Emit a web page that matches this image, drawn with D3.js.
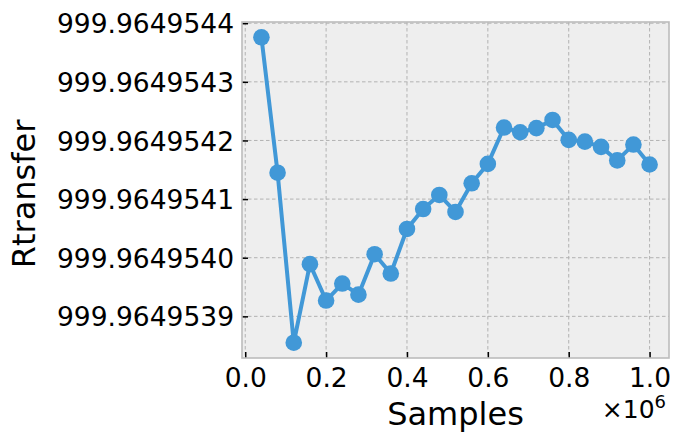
<!DOCTYPE html>
<html>
<head>
<meta charset="utf-8">
<script src="https://cdn.jsdelivr.net/npm/d3@7"></script>
<style>
  html, body { margin: 0; padding: 0; background: #ffffff; }
  svg { display: block; font-family: "DejaVu Sans", sans-serif; }
</style>
</head>
<body>
<svg id="chart" width="673" height="439"></svg>
<script>
// Sample counts (x) and transfer ratio estimates (y)
const samples = [
  40000, 80000, 120000, 160000, 200000, 240000, 280000, 320000, 360000, 400000,
  440000, 480000, 520000, 560000, 600000, 640000, 680000, 720000, 760000, 800000,
  840000, 880000, 920000, 960000, 1000000
];
const rtransfer = [
  999.964954376, 999.964954145, 999.964953855, 999.964953989, 999.964953927,
  999.964953956, 999.964953937, 999.964954006, 999.964953973, 999.964954049,
  999.964954083, 999.964954107, 999.964954078, 999.964954127, 999.964954160,
  999.964954222, 999.964954214, 999.964954221, 999.964954235, 999.964954201,
  999.964954198, 999.964954189, 999.964954166, 999.964954193, 999.964954159
];
const xTicks = [0, 200000, 400000, 600000, 800000, 1000000];
const xTickLabels = ["0.0", "0.2", "0.4", "0.6", "0.8", "1.0"];
const yTickLabels = ["999.9649539", "999.9649540", "999.9649541", "999.9649542", "999.9649543", "999.9649544"];
const yTicks = yTickLabels.map(Number);

const svg = d3.select("#chart");
const plot = { left: 242, right: 669, top: 22, bottom: 358 };

// 5% padding around the data on both axes
function padded(values) {
  const [lo, hi] = d3.extent(values);
  const m = (hi - lo) * 0.05;
  return [lo - m, hi + m];
}
const x = d3.scaleLinear().domain(padded(samples)).range([plot.left, plot.right]);
const y = d3.scaleLinear().domain(padded(rtransfer)).range([plot.bottom, plot.top]);

const color = "#4198d7";

// Axes background
svg.append("rect")
  .attr("x", plot.left).attr("y", plot.top)
  .attr("width", plot.right - plot.left).attr("height", plot.bottom - plot.top)
  .attr("fill", "#eeeeee");

// Grid lines
const grid = svg.append("g")
  .attr("stroke", "#b2b2b2").attr("stroke-width", 1).attr("stroke-dasharray", "3.5,2.5");
grid.selectAll("line.gx").data(xTicks).join("line")
  .attr("x1", d => x(d)).attr("x2", d => x(d))
  .attr("y1", plot.top).attr("y2", plot.bottom);
grid.selectAll("line.gy").data(yTicks).join("line")
  .attr("y1", d => y(d)).attr("y2", d => y(d))
  .attr("x1", plot.left).attr("x2", plot.right);

// Bottom axis: inward ticks
const xAxis = d3.axisBottom(x).tickValues(xTicks).tickSizeInner(-6).tickSizeOuter(0)
  .tickFormat((d, i) => xTickLabels[i]);
const gx = svg.append("g").attr("transform", `translate(0,${plot.bottom})`).call(xAxis);
gx.select(".domain").remove();
gx.selectAll(".tick line").attr("stroke", "#000").attr("stroke-width", 1.5);
gx.selectAll(".tick text").attr("y", 29).attr("dy", null)
  .attr("font-size", 26.5).attr("fill", "#000").attr("font-family", "DejaVu Sans");

// Left axis: inward ticks
const yAxis = d3.axisLeft(y).tickValues(yTicks).tickSizeInner(-6).tickSizeOuter(0)
  .tickFormat((d, i) => yTickLabels[i]);
const gy = svg.append("g").attr("transform", `translate(${plot.left},0)`).call(yAxis);
gy.select(".domain").remove();
gy.selectAll(".tick line").attr("stroke", "#000").attr("stroke-width", 1.5);
gy.selectAll(".tick text").attr("x", -8).attr("dy", "0.36em")
  .attr("font-size", 26.5).attr("fill", "#000").attr("font-family", "DejaVu Sans");

// Axes frame
svg.append("rect")
  .attr("x", plot.left).attr("y", plot.top)
  .attr("width", plot.right - plot.left).attr("height", plot.bottom - plot.top)
  .attr("fill", "none").attr("stroke", "#bcbcbc").attr("stroke-width", 1.6);

// Series line and markers
const pts = samples.map((s, i) => [s, rtransfer[i]]);
svg.append("path")
  .datum(pts)
  .attr("fill", "none").attr("stroke", color).attr("stroke-width", 4)
  .attr("stroke-linejoin", "round")
  .attr("d", d3.line().x(d => x(d[0])).y(d => y(d[1])));
svg.append("g").selectAll("circle").data(pts).join("circle")
  .attr("cx", d => x(d[0])).attr("cy", d => y(d[1])).attr("r", 8.3)
  .attr("fill", color);

// Axis labels
svg.append("text")
  .attr("x", (plot.left + plot.right) / 2).attr("y", 425)
  .attr("text-anchor", "middle").attr("font-size", 32).attr("fill", "#000")
  .text("Samples");
svg.append("text")
  .attr("transform", `translate(35,194) rotate(-90)`)
  .attr("text-anchor", "middle").attr("font-size", 32).attr("fill", "#000")
  .text("Rtransfer");

// Offset multiplier for the x axis
const off = svg.append("text")
  .attr("x", 666).attr("y", 418)
  .attr("text-anchor", "end").attr("font-size", 25).attr("fill", "#000");
off.append("tspan").text("×10");
off.append("tspan").attr("dy", -10).attr("font-size", 18).text("6");
</script>
</body>
</html>
